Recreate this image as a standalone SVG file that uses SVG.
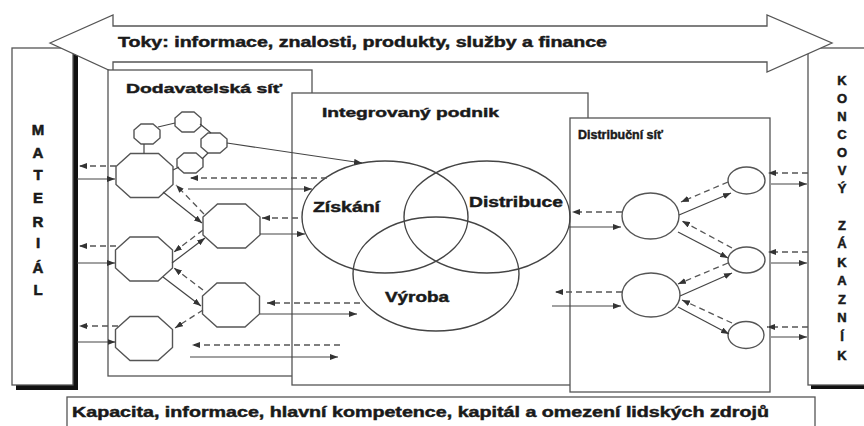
<svg xmlns="http://www.w3.org/2000/svg" xmlns:xlink="http://www.w3.org/1999/xlink" width="864" height="426" viewBox="0 0 864 426">
<style>
.box{fill:#fff;stroke:#555;stroke-width:1.3}
.node{fill:#fff;stroke:#555;stroke-width:1.4}
.c{fill:none;stroke:#444;stroke-width:1.2}
.d{fill:none;stroke:#555;stroke-width:1.3;stroke-dasharray:6 4}
.t{font-family:"Liberation Sans",Arial,sans-serif;font-weight:bold;fill:#1a1a1a;stroke:#1a1a1a;stroke-width:0.45}
.lt{font-family:"Liberation Sans",Arial,sans-serif;font-weight:bold;fill:#1a1a1a;stroke:#1a1a1a;stroke-width:0.6;font-size:15px;text-anchor:middle}
.lc{font-family:"Liberation Sans",Arial,sans-serif;font-weight:bold;fill:#1a1a1a;stroke:#1a1a1a;stroke-width:0.5;font-size:13px;text-anchor:middle}
</style>
<defs>
<marker id="ah" viewBox="0 0 8 6" refX="8" refY="3" markerWidth="8" markerHeight="6" markerUnits="userSpaceOnUse" orient="auto"><path d="M0,0 L8,3 L0,6 z" fill="#333"/></marker>
<polygon id="oct" points="-14,-22 14,-22 28.5,-9 28.5,9 14,22 -14,22 -28.5,9 -28.5,-9"/>
<polygon id="soct" points="-6,-10 6,-10 13,-4 13,4 6,10 -6,10 -13,4 -13,-4"/>
</defs>

<g id="material">
<rect x="16" y="53" width="62" height="337" fill="#111"/>
<rect class="box" x="12" y="48" width="61" height="337"/>
<text class="lt" x="38" y="135">M</text>
<text class="lt" x="38" y="158">A</text>
<text class="lt" x="38" y="180">T</text>
<text class="lt" x="38" y="203">E</text>
<text class="lt" x="38" y="227">R</text>
<text class="lt" x="38" y="248">I</text>
<text class="lt" x="38" y="273">Á</text>
<text class="lt" x="38" y="295">L</text>
</g>

<g id="zakaznik">
<rect x="811" y="52" width="60" height="337" fill="#111"/>
<rect class="box" x="808" y="48" width="70" height="337"/>
<text class="lc" x="842" y="85">K</text>
<text class="lc" x="842" y="103">O</text>
<text class="lc" x="842" y="121">N</text>
<text class="lc" x="842" y="139">C</text>
<text class="lc" x="842" y="157">O</text>
<text class="lc" x="842" y="175">V</text>
<text class="lc" x="842" y="193">Ý</text>
<text class="lc" x="842" y="230">Z</text>
<text class="lc" x="842" y="248">Á</text>
<text class="lc" x="842" y="267">K</text>
<text class="lc" x="842" y="285">A</text>
<text class="lc" x="842" y="304">Z</text>
<text class="lc" x="842" y="322">N</text>
<text class="lc" x="842" y="341">Í</text>
<text class="lc" x="842" y="360">K</text>
</g>

<g id="toky">
<polygon class="box" points="50,43 113,15 113,26 767,26 767,15 832,43 767,72 767,62 113,62 113,72"/>
<text class="t" x="118" y="47" font-size="14" textLength="489" lengthAdjust="spacingAndGlyphs">Toky: informace, znalosti, produkty, služby a finance</text>
</g>

<g id="kapacita">
<rect class="box" x="67" y="397" width="748" height="40"/>
<text class="t" x="72" y="417" font-size="14" textLength="697" lengthAdjust="spacingAndGlyphs">Kapacita, informace, hlavní kompetence, kapitál a omezení lidských zdrojů</text>
</g>

<g id="dodavatelska-sit">
<rect class="box" x="108" y="70" width="204" height="306"/>
<text class="t" x="126" y="93" font-size="13.5" textLength="156" lengthAdjust="spacingAndGlyphs">Dodavatelská síť</text>
</g>

<g id="integrovany-podnik">
<rect class="box" x="292" y="93" width="296" height="292"/>
<text class="t" x="322" y="117" font-size="13.5" textLength="177" lengthAdjust="spacingAndGlyphs">Integrovaný podnik</text>
</g>

<g id="distribucni-sit">
<rect class="box" x="570" y="118" width="200" height="274"/>
<text class="t" x="578" y="139" font-size="12.5" textLength="85" lengthAdjust="spacingAndGlyphs">Distribuční síť</text>
</g>

<g id="ziskani">
<ellipse cx="385" cy="217" rx="83" ry="56" fill="none" stroke="#444" stroke-width="1.4"/>
<text class="t" x="313" y="212" font-size="14" textLength="67" lengthAdjust="spacingAndGlyphs">Získání</text>
</g>
<g id="distribuce">
<ellipse cx="487" cy="217" rx="83" ry="56" fill="none" stroke="#444" stroke-width="1.4"/>
<text class="t" x="469" y="207" font-size="14" textLength="94" lengthAdjust="spacingAndGlyphs">Distribuce</text>
</g>
<g id="vyroba">
<ellipse cx="436" cy="274" rx="83" ry="57" fill="none" stroke="#444" stroke-width="1.4"/>
<text class="t" x="385" y="302" font-size="14" textLength="64" lengthAdjust="spacingAndGlyphs">Výroba</text>
</g>

<g id="o1"><use href="#oct" class="node" x="144.5" y="175.5"/></g>
<g id="o2"><use href="#oct" class="node" x="231.5" y="226"/></g>
<g id="o3"><use href="#oct" class="node" x="144" y="259"/></g>
<g id="o4"><use href="#oct" class="node" x="231" y="305"/></g>
<g id="o5"><use href="#oct" class="node" x="144" y="338.5"/></g>
<g id="s1"><use href="#soct" class="node" x="147" y="134"/></g>
<g id="s2"><use href="#soct" class="node" x="188" y="122"/></g>
<g id="s3"><use href="#soct" class="node" x="214" y="143"/></g>
<g id="s4"><use href="#soct" class="node" x="190" y="163"/></g>

<g id="ca"><ellipse class="node" cx="650.5" cy="216" rx="28.5" ry="23"/></g>
<g id="cb"><ellipse class="node" cx="651" cy="295" rx="29" ry="22"/></g>
<g id="cc"><ellipse class="node" cx="746.5" cy="180.5" rx="18.5" ry="13.5"/></g>
<g id="cd"><ellipse class="node" cx="746.5" cy="260" rx="18.5" ry="13"/></g>
<g id="ce"><ellipse class="node" cx="746" cy="335" rx="18" ry="13.5"/></g>

<g id="connectors">
<line class="c" x1="144" y1="144" x2="144" y2="153.5"/>
<line class="c" x1="158" y1="127" x2="175" y2="123"/>
<line class="c" x1="200" y1="124" x2="211" y2="133"/>
<line class="c" x1="208" y1="153" x2="202" y2="159"/>
<line class="c" x1="173" y1="170" x2="179" y2="167"/>
<line class="c" x1="227" y1="143" x2="362" y2="163" marker-end="url(#ah)"/>
<line class="d" x1="116" y1="166" x2="79" y2="166" marker-end="url(#ah)"/>
<line class="c" x1="77" y1="179" x2="115" y2="179" marker-end="url(#ah)"/>
<line class="d" x1="116" y1="246" x2="79" y2="246" marker-end="url(#ah)"/>
<line class="c" x1="77" y1="263" x2="115" y2="263" marker-end="url(#ah)"/>
<line class="d" x1="118" y1="326" x2="79" y2="326" marker-end="url(#ah)"/>
<line class="c" x1="77" y1="342" x2="115.5" y2="342" marker-end="url(#ah)"/>
<line class="d" x1="327" y1="178" x2="190" y2="178" marker-end="url(#ah)"/>
<line class="c" x1="188" y1="189" x2="312" y2="189" marker-end="url(#ah)"/>
<line class="d" x1="298" y1="218" x2="262" y2="218" marker-end="url(#ah)"/>
<line class="c" x1="260" y1="234" x2="305" y2="234" marker-end="url(#ah)"/>
<line class="d" x1="360" y1="303" x2="267" y2="303" marker-end="url(#ah)"/>
<line class="c" x1="260" y1="314" x2="357" y2="314" marker-end="url(#ah)"/>
<line class="d" x1="340" y1="345" x2="192" y2="345" marker-end="url(#ah)"/>
<line class="c" x1="190" y1="357" x2="338" y2="357" marker-end="url(#ah)"/>
<line class="c" x1="163" y1="192" x2="202" y2="223" marker-end="url(#ah)"/>
<line class="d" x1="204" y1="214" x2="176" y2="185" marker-end="url(#ah)"/>
<line class="c" x1="172" y1="263" x2="205" y2="238" marker-end="url(#ah)"/>
<line class="d" x1="203" y1="230" x2="174" y2="252" marker-end="url(#ah)"/>
<line class="c" x1="163" y1="277" x2="201" y2="306" marker-end="url(#ah)"/>
<line class="d" x1="203" y1="290" x2="174" y2="268" marker-end="url(#ah)"/>
<line class="d" x1="203" y1="310" x2="175" y2="328" marker-end="url(#ah)"/>
<line class="d" x1="622" y1="212" x2="572" y2="212" marker-end="url(#ah)"/>
<line class="c" x1="569" y1="227" x2="621" y2="227" marker-end="url(#ah)"/>
<line class="d" x1="622" y1="292" x2="555" y2="292" marker-end="url(#ah)"/>
<line class="c" x1="552" y1="306" x2="621" y2="306" marker-end="url(#ah)"/>
<line class="c" x1="679" y1="215" x2="731" y2="193" marker-end="url(#ah)"/>
<line class="d" x1="728" y1="182" x2="681" y2="202" marker-end="url(#ah)"/>
<line class="c" x1="678" y1="232" x2="728" y2="258" marker-end="url(#ah)"/>
<line class="d" x1="732" y1="248" x2="682" y2="221" marker-end="url(#ah)"/>
<line class="c" x1="680" y1="296" x2="732" y2="273" marker-end="url(#ah)"/>
<line class="d" x1="728" y1="263" x2="678" y2="284" marker-end="url(#ah)"/>
<line class="c" x1="678" y1="307" x2="729" y2="334" marker-end="url(#ah)"/>
<line class="d" x1="732" y1="323" x2="682" y2="300" marker-end="url(#ah)"/>
<line class="d" x1="808" y1="173" x2="768" y2="173" marker-end="url(#ah)"/>
<line class="c" x1="771" y1="184" x2="807" y2="184" marker-end="url(#ah)"/>
<line class="d" x1="808" y1="252" x2="768" y2="252" marker-end="url(#ah)"/>
<line class="c" x1="771" y1="263" x2="807" y2="263" marker-end="url(#ah)"/>
<line class="d" x1="808" y1="327" x2="767" y2="327" marker-end="url(#ah)"/>
<line class="c" x1="771" y1="337" x2="807" y2="337" marker-end="url(#ah)"/>
</g>
</svg>
